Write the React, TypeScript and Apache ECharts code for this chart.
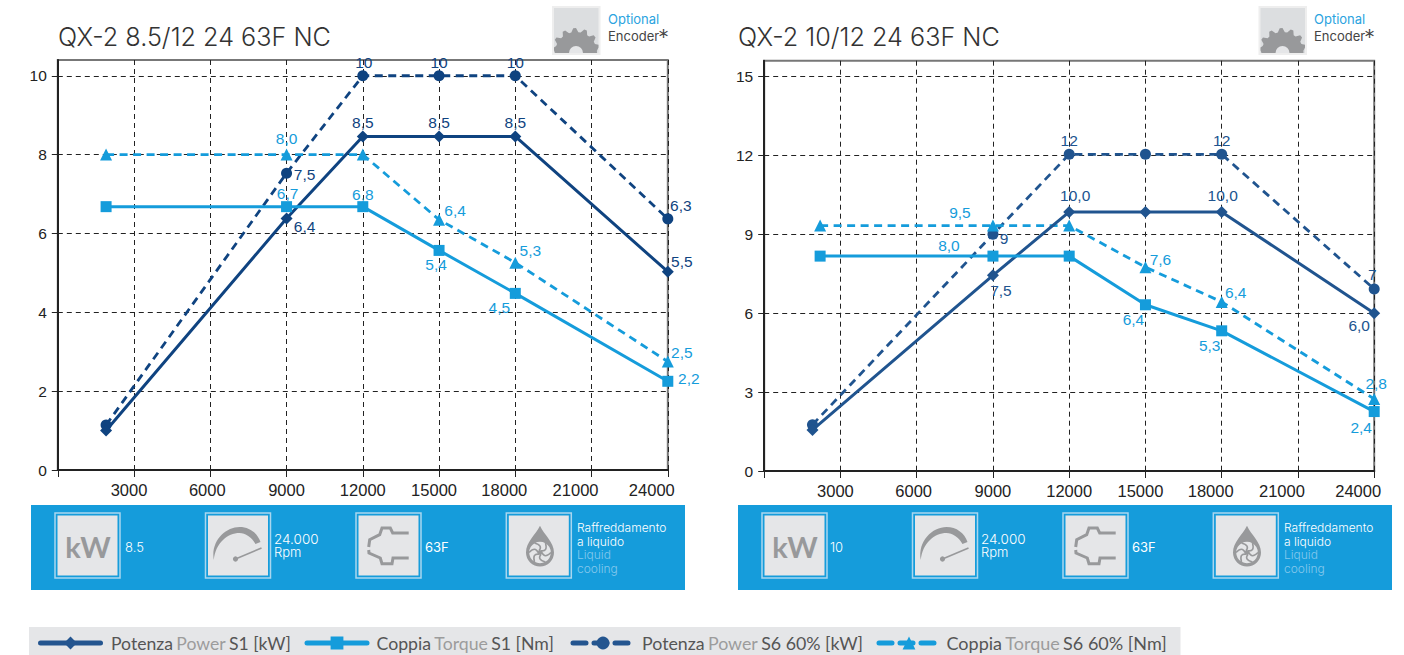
import React, { useEffect, useRef } from "react";
import * as echarts from "echarts";

// ---------- data ----------
const NAME_P1 = "Potenza Power S1 [kW]";
const NAME_T1 = "Coppia Torque S1 [Nm]";
const NAME_P6 = "Potenza Power S6 60% [kW]";
const NAME_T6 = "Coppia Torque S6 60% [Nm]";

const rpmAxisTicks = [3000, 6000, 9000, 12000, 15000, 18000, 21000, 24000];

const leftTitle = "QX-2 8.5/12 24 63F NC";
const leftYTicks = [0, 2, 4, 6, 8, 10];
const leftRpm = [1900, 9000, 12000, 15000, 18000, 24000];
const leftP1 = [1.0, 6.38, 8.46, 8.46, 8.46, 5.03];
const leftP6 = [1.14, 7.53, 10, 10, 10, 6.37];
const leftT1 = [6.68, 6.68, 6.68, 5.57, 4.48, 2.25];
const leftT6 = [8.0, 8.0, 8.0, 6.35, 5.26, 2.75];
const leftP1Text = [null, "6,4", "8,5", "8,5", "8,5", "5,5"];
const leftP6Text = [null, "7,5", "10", "10", "10", "6,3"];
const leftT1Text = [null, "6,7", "6,8", "5,4", "4,5", "2,2"];
const leftT6Text = [null, "8,0", null, "6,4", "5,3", "2,5"];

const rightTitle = "QX-2 10/12 24 63F NC";
const rightYTicks = [0, 3, 6, 9, 12, 15];
const rightRpmPower = [1900, 9000, 12000, 15000, 18000, 24000];
const rightRpmTorque = [2200, 9000, 12000, 15000, 18000, 24000];
const rightP1 = [1.56, 7.44, 9.85, 9.85, 9.85, 6.0];
const rightP6 = [1.76, 9.0, 12.04, 12.04, 12.04, 6.92];
const rightT1 = [8.17, 8.17, 8.17, 6.32, 5.33, 2.26];
const rightT6 = [9.33, 9.33, 9.33, 7.75, 6.43, 2.74];
const rightP1Text = [null, "7,5", "10,0", null, "10,0", "6,0"];
const rightP6Text = [null, "9", "12", null, "12", "7"];
const rightT1Text = [null, "8,0", null, "6,4", "5,3", "2,4"];
const rightT6Text = [null, "9,5", null, "7,6", "6,4", "2,8"];

// ---------- layout of labels (label centre minus point) ----------
const offLeftP1 = [null, [18, 8], [0, -14], [0, -14], [0, -14], [14, -10]];
const offLeftP6 = [null, [18, 1], [1, -13], [0, -13], [0, -13], [13, -13]];
const offLeftT1 = [null, [1, -13], [0, -12], [-3, 14], [-16, 14], [21, -3]];
const offLeftT6 = [null, [0, -16], null, [16, -9], [15, -12], [14, -9]];
const offRightP1 = [null, [8, 15], [6, -16], null, [1, -16], [-15, 12]];
const offRightP6 = [null, [11, 4], [0, -14], null, [0, -14], [-2, -14]];
const offRightT1 = [null, [-44, -11], null, [-12, 15], [-12, 15], [-13, 16]];
const offRightT6 = [null, [-33, -13], null, [15, -8], [14, -9], [2, -15]];

// ---------- styling ----------
const DARK_L = "#0f4380";
const DARK_R = "#20548f";
const LIGHT = "#159cdb";
const PANEL = "#159cdb";
const ICON = "#98999b";
const BOX = "#e5e6e8";
const AXIS = "#222222";
const LABEL_FONT = "Liberation Sans";
const PANEL_FONT = "Inter";

// shapes used by the icons of the blue panels
echarts.graphic.registerShape(
  "gaugeArc",
  echarts.graphic.extendPath(
    "M8.3 47 C5 28 20 14 34 14 C44 14 52 20 55 29 L50 31 C46 24 40 20 34 20 C22 20 10 30 8.3 47 Z",
    {}
  )
);
echarts.graphic.registerShape(
  "dropShape",
  echarts.graphic.extendPath(
    "M33.7 12.7 C38 22 47.7 29 47.7 39.5 A14 14 0 1 1 19.7 39.5 C19.7 29 29 22 33.7 12.7 Z",
    {}
  )
);

function makeLine(
  name: string,
  gridIndex: number,
  xs: number[],
  ys: number[],
  texts: (string | null)[],
  offsets: (number[] | null)[],
  color: string,
  symbol: string,
  symbolSize: number,
  dashed: boolean,
  width: number
) {
  return {
    type: "line",
    name,
    xAxisIndex: gridIndex,
    yAxisIndex: gridIndex,
    symbol,
    symbolSize,
    showSymbol: true,
    showAllSymbol: true,
    clip: false,
    silent: true,
    lineStyle: { color, width, type: dashed ? [8, 5.5] : "solid" },
    itemStyle: { color },
    data: xs.map((x, i) => {
      const t = texts[i];
      const off = offsets[i];
      return {
        value: [x, ys[i]],
        label: t
          ? {
              show: true,
              formatter: t,
              position: "inside",
              offset: off || [0, 0],
              color,
              fontFamily: LABEL_FONT,
              fontSize: 15.5,
            }
          : { show: false },
      };
    }),
  };
}

const shiftRich: Record<string, any> = {};
const shiftOf = (v: number) =>
  ({ 3000: 5, 6000: 3, 9000: 0, 12000: 0, 15000: 5, 18000: 11, 21000: 16, 24000: 16 } as any)[v] ?? 0;
[0, 3, 5, 11, 16].forEach((s) => {
  shiftRich["s" + s] = {
    fontFamily: LABEL_FONT,
    fontSize: 16.5,
    color: "#222",
    padding: [0, s * 2, 0, 0],
  };
});

function makeX(gridIndex: number) {
  return {
    type: "value",
    gridIndex,
    min: 0,
    max: 24000,
    interval: 3000,
    axisLine: { show: true, onZero: false, lineStyle: { color: AXIS, width: 2 } },
    axisTick: { show: true, length: 7, lineStyle: { color: AXIS, width: 1 } },
    axisLabel: {
      customValues: rpmAxisTicks,
      margin: 11,
      formatter: (v: number) => `{s${shiftOf(v)}|${v}}`,
      rich: shiftRich,
    },
    splitLine: { show: true, lineStyle: { color: AXIS, width: 1, type: [5, 4] } },
  };
}

function makeY(gridIndex: number, max: number, interval: number, ticks: number[]) {
  return {
    type: "value",
    gridIndex,
    min: 0,
    max,
    interval,
    axisLine: { show: true, lineStyle: { color: AXIS, width: 2 } },
    axisTick: { show: true, length: 6, customValues: ticks, lineStyle: { color: AXIS, width: 1 } },
    axisLabel: {
      customValues: ticks,
      margin: 11,
      color: "#222",
      fontFamily: LABEL_FONT,
      fontSize: 15.5,
    },
    splitLine: { show: true, lineStyle: { color: AXIS, width: 1, type: [5, 4] } },
  };
}

function txt(x: number, y: number, text: string, fill: string, size: number, family = PANEL_FONT, weight: any = 400) {
  return {
    type: "text",
    x,
    y,
    silent: true,
    style: {
      text,
      fill,
      fontSize: size,
      fontFamily: family,
      fontWeight: weight,
      align: "left",
      verticalAlign: "middle",
    },
  };
}

function iconBox(x: number, children: any[]) {
  return {
    type: "group",
    x,
    y: 513,
    silent: true,
    children: [
      { type: "rect", shape: { x: 0, y: 0, width: 65, height: 65 }, style: { fill: "none", stroke: "#a9d6ef", lineWidth: 1.5 } },
      { type: "rect", shape: { x: 2.5, y: 2.5, width: 60, height: 60 }, style: { fill: BOX } },
      ...children,
    ],
  };
}

function fanBlades() {
  const cx = 33.7;
  const cy = 39.5;
  const out: any[] = [{ type: "circle", shape: { cx, cy, r: 10.8 }, style: { fill: BOX } }];
  for (let i = 0; i < 6; i++) {
    const a = (i * Math.PI) / 3;
    const b = a + 0.95;
    out.push({
      type: "bezierCurve",
      shape: {
        x1: cx + 2 * Math.cos(a),
        y1: cy + 2 * Math.sin(a),
        x2: cx + 11 * Math.cos(a),
        y2: cy + 11 * Math.sin(a),
        cpx1: cx + 8 * Math.cos(b),
        cpy1: cy + 8 * Math.sin(b),
      },
      style: { fill: "none", stroke: ICON, lineWidth: 1.6 },
    });
  }
  out.push({ type: "circle", shape: { cx, cy, r: 2.4 }, style: { fill: ICON } });
  return out;
}

function panel(x0: number, power: string, textOff: number) {
  const light = "#86c9ed";
  return [
    { type: "rect", silent: true, shape: { x: x0, y: 505, width: 654, height: 85 }, style: { fill: PANEL } },
    iconBox(x0 + 24, [
      {
        type: "text",
        x: 33,
        y: 33,
        style: { text: "kW", fill: ICON, fontSize: 29, fontWeight: 700, fontFamily: "Lato", align: "center", verticalAlign: "middle" },
      },
    ]),
    txt(x0 + textOff, 546.5, power, "#ffffff", 13, PANEL_FONT, 300),
    iconBox(x0 + 174.5, [
      { type: "gaugeArc", style: { fill: ICON } },
      { type: "line", shape: { x1: 30, y1: 46, x2: 56, y2: 35 }, style: { stroke: ICON, lineWidth: 1.6 } },
      { type: "circle", shape: { cx: 30, cy: 46, r: 2.6 }, style: { fill: ICON } },
    ]),
    txt(x0 + 243, 538.5, "24.000", "#ffffff", 13.5, PANEL_FONT, 300),
    txt(x0 + 243, 552, "Rpm", "#ffffff", 13, PANEL_FONT, 300),
    iconBox(x0 + 325, [
      {
        type: "polyline",
        shape: { points: [[52.7, 20], [36.7, 20], [34.3, 15], [26, 15], [23.7, 21.7], [13.7, 26.7], [12.7, 34]] },
        style: { fill: "none", stroke: ICON, lineWidth: 3 },
      },
      {
        type: "polyline",
        shape: { points: [[12.7, 37], [13, 40], [24.3, 45], [26, 50.7], [36, 50.7], [37, 45], [52.7, 45]] },
        style: { fill: "none", stroke: ICON, lineWidth: 3 },
      },
    ]),
    txt(x0 + 394, 546.5, "63F", "#ffffff", 13, PANEL_FONT, 400),
    iconBox(x0 + 475.3, [{ type: "dropShape", style: { fill: ICON } }, ...fanBlades()]),
    txt(x0 + 546, 527.5, "Raffreddamento", "#ffffff", 12, PANEL_FONT, 300),
    txt(x0 + 546, 541, "a liquido", "#ffffff", 12, PANEL_FONT, 300),
    txt(x0 + 546, 554.5, "Liquid", light, 12, PANEL_FONT, 300),
    txt(x0 + 546, 568, "cooling", light, 12, PANEL_FONT, 300),
  ];
}

function gearPoints(cx: number, cy: number, inner: number, outer: number, teeth: number, minX: number, maxX: number) {
  const pts: number[][] = [];
  const n = teeth * 4;
  for (let i = 0; i <= n / 2; i++) {
    const a = Math.PI + (i / n) * 2 * Math.PI;
    const r = i % 4 === 1 || i % 4 === 2 ? outer : inner;
    pts.push([Math.min(maxX, Math.max(minX, cx + r * Math.cos(a))), cy + r * Math.sin(a)]);
  }
  return pts;
}

function encoder(x: number, tx: number) {
  const cx = 23;
  const cy = 46;
  return [
    {
      type: "group",
      x,
      y: 7,
      silent: true,
      children: [
        { type: "rect", shape: { x: 0, y: 0, width: 46.5, height: 47 }, style: { fill: "#dcdee0", stroke: "#eeeeee", lineWidth: 2 } },
        { type: "polygon", shape: { points: gearPoints(cx, cy, 21, 25, 14, 1, 45.5) }, style: { fill: ICON } },
        { type: "sector", shape: { cx, cy, r0: 0, r: 7, startAngle: Math.PI, endAngle: 2 * Math.PI }, style: { fill: "#e5e6e8" } },
      ],
    },
    txt(tx, 19, "Optional", "#2aa3e0", 13),
    txt(tx, 36, "Encoder", "#444444", 13),
    txt(tx + 50, 37, "*", "#444444", 22, "Inter", 300),
  ];
}

function legendEntry(left: number, name: string, color: string, dashed: boolean, pad: number, fontSize: number) {
  return {
    left,
    top: 634,
    orient: "horizontal",
    selectedMode: false,
    itemWidth: 60,
    itemHeight: 16,
    itemGap: 0,
    padding: 0,
    data: [
      {
        name,
        itemStyle: { color },
        lineStyle: { color, width: 5, cap: "round", type: dashed ? [13, 8] : "solid" },
      },
    ],
    formatter: (n: string) => {
      const parts = n.split(" ");
      return `{a|${parts[0]}} {b|${parts[1]}} {a|${parts.slice(2).join(" ")}}`;
    },
    textStyle: {
      padding: [0, 0, 0, pad],
      rich: {
        a: { fontFamily: "Lato", fontSize, color: "#555555" },
        b: { fontFamily: "Lato", fontSize, color: "#9c9c9c" },
      },
    },
  };
}

export default function App() {
  const ref = useRef<HTMLDivElement>(null);
  useEffect(() => {
    document.body.style.margin = "0";
    const chart = echarts.init(ref.current!, undefined, { renderer: "svg" });
    const titleStyle = { fontFamily: "Inter", fontWeight: 300, fontSize: 25.2, color: "#333333" };
    chart.setOption({
      animation: false,
      backgroundColor: "#ffffff",
      tooltip: { show: false },
      title: [
        { text: leftTitle, left: 58, top: 24, padding: 0, textStyle: titleStyle },
        { text: rightTitle, left: 738, top: 24, padding: 0, textStyle: titleStyle },
      ],
      grid: [
        { left: 57.8, top: 60, width: 610, height: 410, show: true, borderColor: "#777777", borderWidth: 2, backgroundColor: "transparent" },
        { left: 764.2, top: 60.7, width: 610, height: 410.3, show: true, borderColor: "#777777", borderWidth: 2, backgroundColor: "transparent" },
      ],
      xAxis: [makeX(0), makeX(1)],
      yAxis: [makeY(0, 10.4, 2, leftYTicks), makeY(1, 15.6, 3, rightYTicks)],
      legend: [
        legendEntry(38, NAME_P1, "#24558f", false, 5.5, 17.6),
        legendEntry(304.5, NAME_T1, LIGHT, false, 4.5, 17.7),
        legendEntry(570.5, NAME_P6, "#24558f", true, 4, 17.8),
        legendEntry(876.5, NAME_T6, LIGHT, true, 2.5, 18),
      ],
      series: [
        makeLine(NAME_P6, 0, leftRpm, leftP6, leftP6Text, offLeftP6, DARK_L, "circle", 11, true, 2.8),
        makeLine(NAME_T6, 0, leftRpm, leftT6, leftT6Text, offLeftT6, LIGHT, "triangle", 12, true, 2.8),
        makeLine(NAME_P1, 0, leftRpm, leftP1, leftP1Text, offLeftP1, DARK_L, "diamond", 12, false, 3),
        makeLine(NAME_T1, 0, leftRpm, leftT1, leftT1Text, offLeftT1, LIGHT, "rect", 11, false, 3),
        makeLine(NAME_P6, 1, rightRpmPower, rightP6, rightP6Text, offRightP6, DARK_R, "circle", 11, true, 2.8),
        makeLine(NAME_T6, 1, rightRpmTorque, rightT6, rightT6Text, offRightT6, LIGHT, "triangle", 12, true, 2.8),
        makeLine(NAME_P1, 1, rightRpmPower, rightP1, rightP1Text, offRightP1, DARK_R, "diamond", 12, false, 3),
        makeLine(NAME_T1, 1, rightRpmTorque, rightT1, rightT1Text, offRightT1, LIGHT, "rect", 11, false, 3),
      ],
      graphic: {
        elements: [
          ...encoder(553, 608),
          ...encoder(1259.5, 1314),
          ...panel(31, "8.5", 94),
          ...panel(738, "10", 92),
          { type: "rect", silent: true, shape: { x: 29, y: 627, width: 1151.5, height: 28 }, style: { fill: BOX } },
        ],
      },
    });
    return () => chart.dispose();
  }, []);
  return <div ref={ref} style={{ position: "absolute", left: 0, top: 0, width: 1404, height: 655 }} />;
}
